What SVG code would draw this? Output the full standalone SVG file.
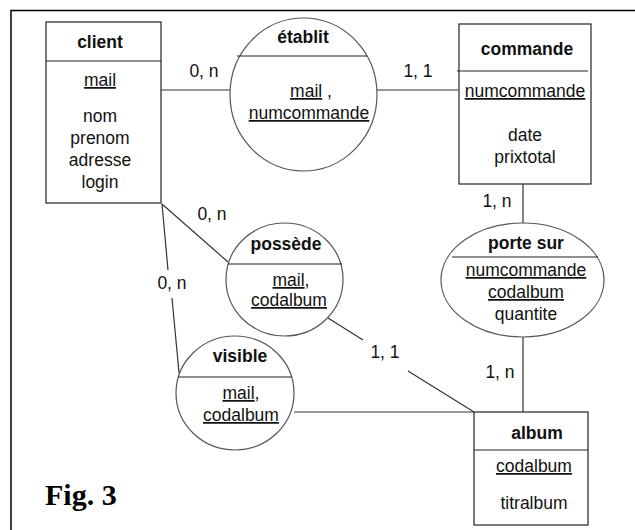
<svg xmlns="http://www.w3.org/2000/svg" width="635" height="530" viewBox="0 0 635 530">
<style>
text{font-family:"Liberation Sans",Arial,sans-serif;font-size:17.5px;fill:#111;text-anchor:middle}
.b{font-weight:bold}
.u{text-decoration:underline}
.box{fill:#fff;stroke:#333;stroke-width:1.3}
.ell{fill:#fff;stroke:#555;stroke-width:1.2}
.div{stroke:#222;stroke-width:1.2}
.ln{stroke:#333;stroke-width:1.2;fill:none}
.fig{font-family:"Liberation Serif","Times New Roman",serif;font-size:30px;font-weight:bold;text-anchor:start;fill:#000}
</style>
<rect width="635" height="530" fill="#fff"/>
<path d="M11,530 V10.5 H635" fill="none" stroke="#000" stroke-width="1.5"/>
<g id="connectors">
<line class="ln" x1="161" y1="90" x2="230" y2="90"/>
<line class="ln" x1="377" y1="90" x2="458" y2="90"/>
<line class="ln" x1="523" y1="184" x2="523" y2="223"/>
<line class="ln" x1="523" y1="337" x2="523" y2="412"/>
<line class="ln" x1="162" y1="204" x2="228" y2="262"/>
<line class="ln" x1="162" y1="204" x2="168" y2="270"/>
<line class="ln" x1="172" y1="298" x2="179" y2="373"/>
<line class="ln" x1="294" y1="412" x2="474" y2="412"/>
<line class="ln" x1="328" y1="318" x2="363" y2="340"/>
<line class="ln" x1="408" y1="371" x2="474" y2="412"/>
<text x="204" y="77">0, n</text>
<text x="418" y="77">1, 1</text>
<text x="497" y="207">1, n</text>
<text x="212" y="220">0, n</text>
<text x="172" y="289">0, n</text>
<text x="385" y="358">1, 1</text>
<text x="500" y="378">1, n</text>
</g>
<g id="client">
<rect class="box" x="46" y="22" width="115" height="181"/>
<line class="div" x1="46" y1="61" x2="161" y2="61"/>
<text class="b" x="100" y="48">client</text>
<text class="u" x="100" y="86">mail</text>
<text x="100" y="122">nom</text>
<text x="100" y="144">prenom</text>
<text x="100" y="166">adresse</text>
<text x="100" y="188">login</text>
</g>
<g id="etablit">
<ellipse class="ell" cx="303.5" cy="94.5" rx="73.5" ry="76.5"/>
<line class="div" x1="237" y1="56" x2="367" y2="56"/>
<text class="b" x="303" y="43">établit</text>
<text x="311" y="97"><tspan class="u">mail</tspan> ,</text>
<text class="u" x="309" y="119">numcommande</text>
</g>
<g id="commande">
<rect class="box" x="459" y="24" width="132" height="160"/>
<line class="div" x1="457" y1="71" x2="588" y2="71"/>
<text class="b" x="527" y="55">commande</text>
<text class="u" x="525" y="97">numcommande</text>
<text x="525" y="141">date</text>
<text x="525" y="163">prixtotal</text>
</g>
<g id="porte-sur">
<ellipse class="ell" cx="522.5" cy="280" rx="81.5" ry="57"/>
<line class="div" x1="452" y1="257" x2="598" y2="257"/>
<text class="b" x="526" y="249">porte sur</text>
<text class="u" x="526" y="276">numcommande</text>
<text class="u" x="526" y="298">codalbum</text>
<text x="526" y="320">quantite</text>
</g>
<g id="possede">
<ellipse class="ell" cx="284.5" cy="279.5" rx="58.5" ry="56.5"/>
<line class="div" x1="228" y1="264" x2="342" y2="264"/>
<text class="b" x="286" y="250">possède</text>
<text x="291" y="286"><tspan class="u">mail</tspan>,</text>
<text class="u" x="289" y="306">codalbum</text>
</g>
<g id="visible">
<ellipse class="ell" cx="235" cy="393" rx="59" ry="57"/>
<line class="div" x1="178" y1="377" x2="292" y2="377"/>
<text class="b" x="240" y="362">visible</text>
<text x="241" y="399"><tspan class="u">mail</tspan>,</text>
<text class="u" x="241" y="421">codalbum</text>
</g>
<g id="album">
<rect class="box" x="474" y="412" width="114" height="113"/>
<line class="div" x1="474" y1="450" x2="588" y2="450"/>
<text class="b" x="537" y="439">album</text>
<text class="u" x="534" y="472">codalbum</text>
<text x="534" y="509">titralbum</text>
</g>
<text class="fig" x="45" y="505">Fig. 3</text>
</svg>
